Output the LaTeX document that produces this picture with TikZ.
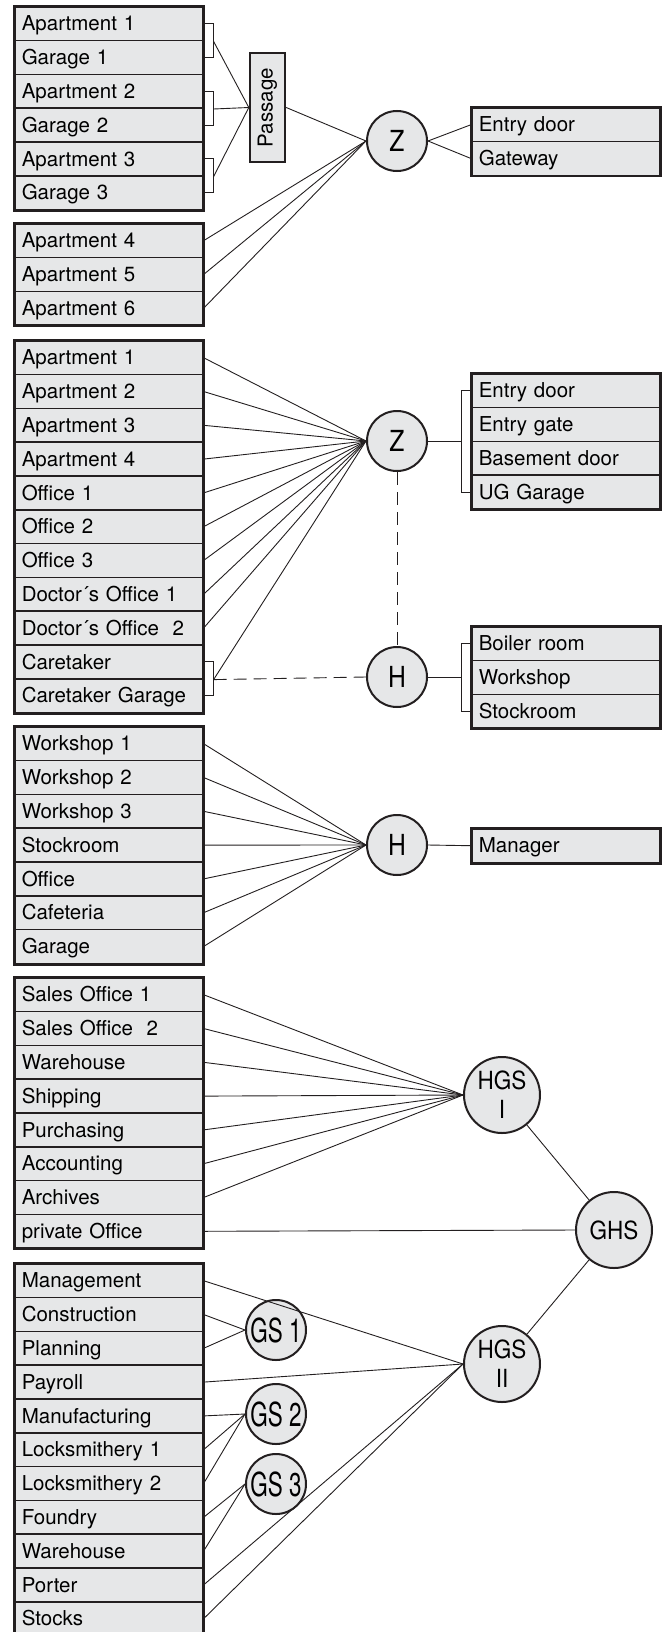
\documentclass[tikz,border=0pt]{standalone}
\usepackage{fontspec}
\setmainfont{TeX Gyre Heros}
\usepackage{graphicx}
\usetikzlibrary{calc,fit}

\definecolor{roomgray}{RGB}{230,231,232}
\definecolor{ink}{RGB}{35,31,32}
\newcommand{\squeeze}[2]{\scalebox{#1}[1]{#2}}

\tikzset{
  room/.style={draw=ink, fill=roomgray, line width=1.6pt, anchor=north west,
    minimum height=33.8pt, text width=174pt, inner xsep=7pt, inner ysep=0pt,
    text height=19pt, text depth=4.5pt, align=left,
    font=\fontsize{20.5}{24}\selectfont},
  frame/.style={draw=ink, line width=2.6pt, inner sep=0pt},
  hub/.style={circle, draw=ink, fill=roomgray, line width=2pt,
    minimum size=60pt, inner sep=0pt, font=\fontsize{29}{32}\selectfont},
  bighub/.style={hub, minimum size=76pt, align=center,
    font=\fontsize{25}{29}\selectfont},
  link/.style={draw=ink, line width=0.9pt},
  guard/.style={link, dash pattern=on 13pt off 7pt},
}

\begin{document}
\begin{tikzpicture}[x=1pt, y=-1pt]
  \useasboundingbox (0,0) rectangle (669,1632);

  % --- block 1: apartments with passage
  \foreach \t [count=\i] in {Apartment 1,Garage 1,Apartment 2,Garage 2,Apartment 3,Garage 3}
    \node[room] (g1-\i) at (14,{6+(\i-1)*33.8}) {\t};
  \node[frame, fit=(g1-1)(g1-6)] {};
  \foreach \t [count=\i] in {Apartment 4,Apartment 5,Apartment 6}
    \node[room] (g2-\i) at (14,{223+(\i-1)*33.8}) {\t};
  \node[frame, fit=(g2-1)(g2-3)] {};

  \node[draw=ink, fill=roomgray, line width=2.4pt, minimum width=35pt,
    minimum height=109pt, inner sep=0pt, font=\fontsize{20.5}{24}\selectfont]
    (pass) at (267.5,107.5) {\rotatebox{90}{Passage}};
  \node[hub] (z1) at (397,141) {\squeeze{0.85}{Z}};

  \foreach \t [count=\i] in {Entry door,Gateway}
    \node[room] (r1-\i) at (471,{107+(\i-1)*33.8}) {\t};
  \node[frame, fit=(r1-1)(r1-2)] {};

  \foreach \a/\b [count=\k] in {1/2,3/4,5/6} {
    \coordinate (k1-\k) at ($(g1-\a.south east)+(10,0)$);
    \draw[link] (g1-\a.east) -| (k1-\k) |- (g1-\b.east);
    \draw[link] (k1-\k) -- (pass.west);
  }
  \draw[link] (pass.east) -- (z1.west);
  \foreach \i in {1,2,3}
    \draw[link] (g2-\i.east) -- (z1.west);
  \draw[link] (z1.east) -- (r1-1.west);
  \draw[link] (z1.east) -- (r1-2.west);

  % --- block 2: residential and office building
  \foreach \t [count=\i] in {Apartment 1,Apartment 2,Apartment 3,Apartment 4,Office 1,
      Office 2,Office 3,Doctor´s Office 1,Doctor´s Office~ 2,Caretaker,Caretaker Garage}
    \node[room] (g3-\i) at (14,{340+(\i-1)*33.8}) {\t};
  \node[frame, fit=(g3-1)(g3-11)] {};

  \node[hub] (z2) at (397,441) {\squeeze{0.85}{Z}};
  \node[hub] (h1) at (397,677) {\squeeze{0.85}{H}};

  \foreach \t [count=\i] in {Entry door,Entry gate,Basement door,UG Garage}
    \node[room] (r2-\i) at (471,{373+(\i-1)*33.8}) {\t};
  \node[frame, fit=(r2-1)(r2-4)] {};
  \foreach \t [count=\i] in {Boiler room,Workshop,Stockroom}
    \node[room] (r3-\i) at (471,{626+(\i-1)*33.8}) {\t};
  \node[frame, fit=(r3-1)(r3-3)] {};

  \foreach \i in {1,...,9}
    \draw[link] (g3-\i.east) -- (z2.west);
  \coordinate (k2) at ($(g3-10.south east)+(10,0)$);
  \draw[link] (g3-10.east) -| (k2) |- (g3-11.east);
  \draw[link] (k2) -- (z2.west);
  \draw[guard] (k2) -- (h1.west);
  \draw[guard] (z2.south) -- (h1.north);

  \coordinate (k3) at ($(r2-1.west)+(-10,0)$);
  \draw[link] (r2-1.west) -- (k3) |- (r2-4.west);
  \draw[link] (z2.east) -- (z2.east -| k3);
  \coordinate (k4) at ($(r3-1.west)+(-10,0)$);
  \draw[link] (r3-1.west) -- (k4) |- (r3-3.west);
  \draw[link] (h1.east) -- (h1.east -| k4);

  % --- block 3: workshop building
  \foreach \t [count=\i] in {Workshop 1,Workshop 2,Workshop 3,Stockroom,Office,Cafeteria,Garage}
    \node[room] (g4-\i) at (14,{726+(\i-1)*33.8}) {\t};
  \node[frame, fit=(g4-1)(g4-7)] {};
  \node[hub] (h2) at (397,845) {\squeeze{0.85}{H}};
  \node[room] (r4-1) at (471,828) {Manager};
  \node[frame, fit=(r4-1)] {};
  \foreach \i in {1,...,7}
    \draw[link] (g4-\i.east) -- (h2.west);
  \draw[link] (h2.east) -- (r4-1.west);

  % --- block 4: company with group masters
  \foreach \t [count=\i] in {Sales Office 1,Sales Office~ 2,Warehouse,Shipping,Purchasing,
      Accounting,Archives,private Office}
    \node[room] (g5-\i) at (14,{977+(\i-1)*33.8}) {\t};
  \node[frame, fit=(g5-1)(g5-8)] {};
  \foreach \t [count=\i] in {Management,Construction,Planning,Payroll,Manufacturing,
      Locksmithery 1,Locksmithery 2,Foundry,Warehouse,Porter,Stocks}
    \node[room] (g6-\i) at (14,{1263+(\i-1)*33.8}) {\t};
  \node[frame, fit=(g6-1)(g6-11)] {};

  \node[bighub] (hgs1) at (502,1095) {\squeeze{0.9}{HGS}\\\squeeze{0.9}{I}};
  \node[bighub] (ghs) at (614,1230) {\squeeze{0.9}{GHS}};
  \node[bighub] (hgs2) at (502,1364) {\squeeze{0.9}{HGS}\\\squeeze{0.9}{II}};
  \node[hub, font=\fontsize{33}{36}\selectfont] (gs1) at (276,1330) {\squeeze{0.68}{GS 1}};
  \node[hub, font=\fontsize{33}{36}\selectfont] (gs2) at (276,1414) {\squeeze{0.68}{GS 2}};
  \node[hub, font=\fontsize{33}{36}\selectfont] (gs3) at (276,1484) {\squeeze{0.68}{GS 3}};

  \foreach \i in {1,...,7}
    \draw[link] (g5-\i.east) -- (hgs1.west);
  \draw[link] (g5-8.east) -- (ghs.west);
  \draw[link] (hgs1) -- (ghs);
  \draw[link] (hgs2) -- (ghs);
  \foreach \i in {1,4,10,11}
    \draw[link] (g6-\i.east) -- (hgs2.west);
  \foreach \i in {2,3}
    \draw[link] (g6-\i.east) -- (gs1.west);
  \foreach \i in {5,6,7}
    \draw[link] (g6-\i.east) -- (gs2.west);
  \foreach \i in {8,9}
    \draw[link] (g6-\i.east) -- (gs3.west);
\end{tikzpicture}
\end{document}
